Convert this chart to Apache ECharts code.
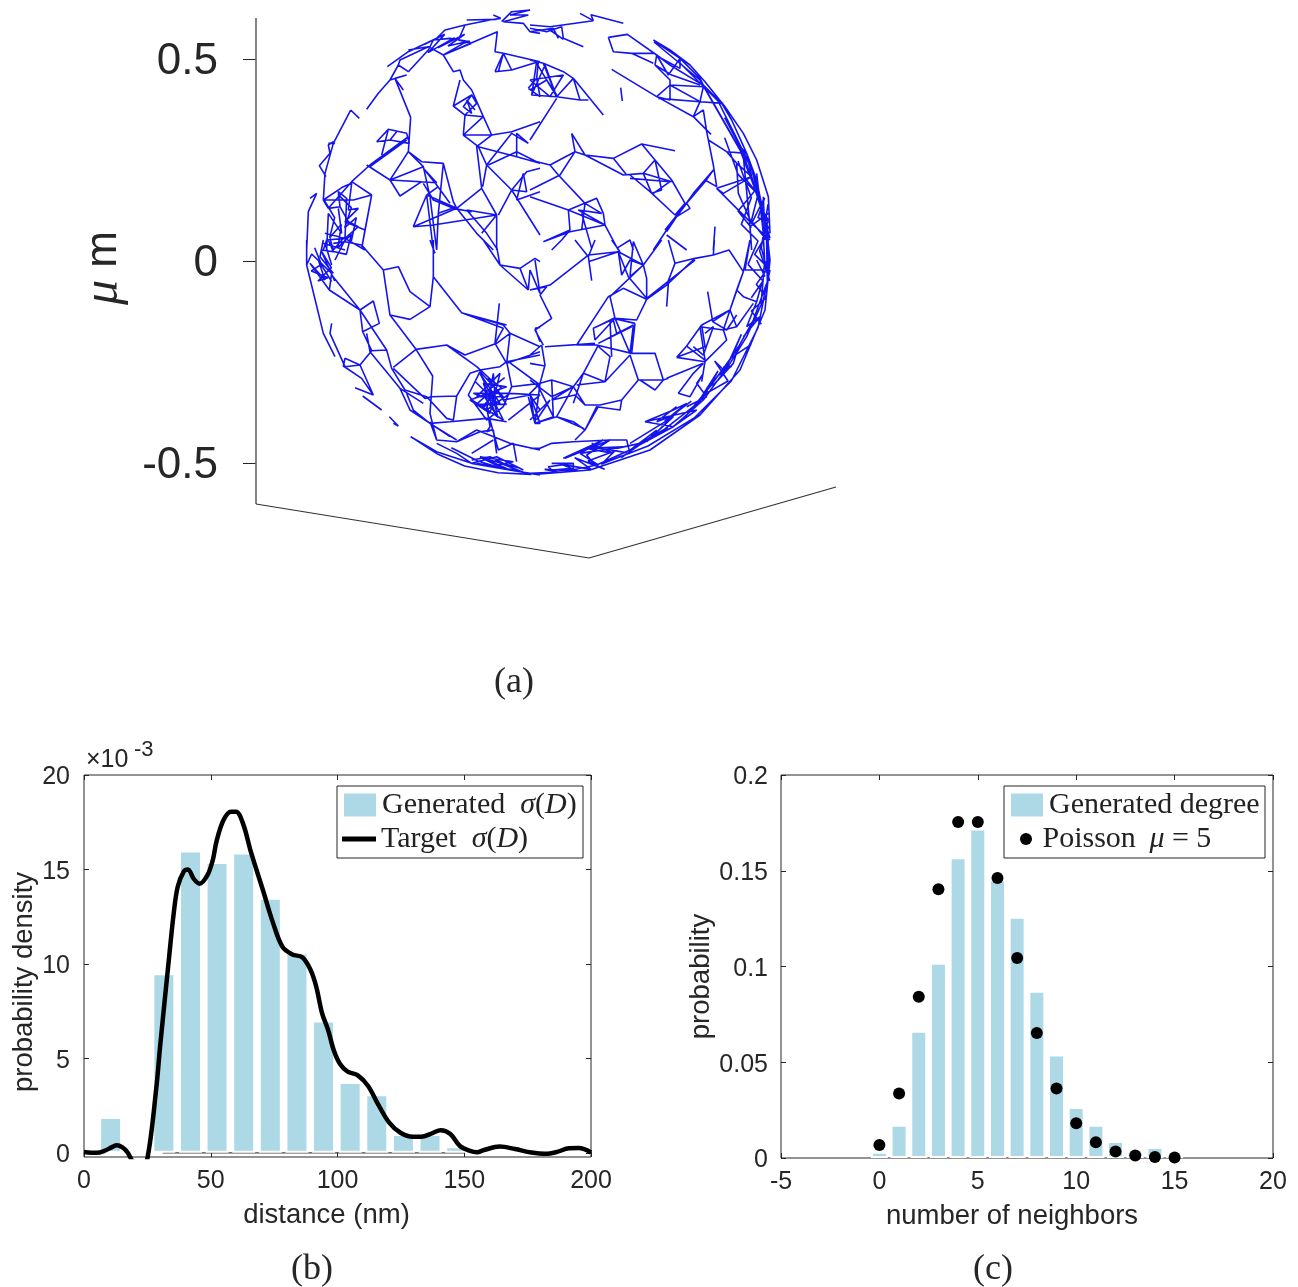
<!DOCTYPE html>
<html><head><meta charset="utf-8"><style>html,body{margin:0;padding:0;background:#fff}#c{width:1298px;height:1287px}</style>
<script src="https://cdn.jsdelivr.net/npm/echarts@6/dist/echarts.min.js"></script></head><body><div id="c"></div>
<script>
// Network polylines, sphere-centred, one step = netStep um
const netStep = 1/1212;
const netNW = [
[-452,583,-389,628,-304,668,-279,693,-219,708,-144,723,-112,728,-134,738],[-214,723,-124,725],
[-389,633,-329,643,-284,618,-224,653,-204,658,-264,668,-314,663,-329,633,-389,568,-419,588,-414,603,-329,643],
[-284,618,-122,688,-129,628,-104,623,6,598],
[-219,708,-239,663,-199,653,-284,618,-254,568,-234,573,-224,543,-199,513,-164,433,-139,378,-224,378,-219,438,-254,465,-234,543],
[-254,465,-199,498,-184,473,-219,438,-164,433],[-199,498,-224,463,-199,443,-214,483,-189,453],[-224,378,-164,433],
[-514,455,-479,503,-444,543,-419,588],[-444,543,-394,558,-429,548,-404,513],
[-429,548,-382,431,-386,373,-389,328,-444,243,-414,195,-349,238,-444,243],
[-389,328,-349,298,-284,293,-254,178,-244,158,-374,103,-334,198,-244,158],[-284,293,-299,143,-304,33],
[-444,243,-344,283,-389,328],[-444,243,-304,235,-344,278,-304,228,-264,173],
[-374,103,-314,108,-124,138,-169,218,-244,158],[-334,198,-314,33],
[-169,218,-184,343,-139,378,-79,388,6,418],[-224,378,-179,343,-154,288,-166,223],
[-154,288,-79,383,-29,353,-64,383,-64,313,6,293],[-179,343,-64,313],[-149,288,-64,328,6,293],
[-154,288,-79,213,6,78],[-79,213,-34,268,6,278],[-79,213,-34,208,-44,263,-64,183,6,208],
[-124,138,-214,153,-154,83,-124,38],[-169,83,-124,138,-124,33],[-79,213,-119,138],[-244,158,-184,83,-134,33],
[-562,453,-536,428],[-562,453,-614,353,-639,263,-644,183,-629,158,-559,238,-504,288,-389,373],
[-614,358,-629,348,-624,323,-656,286,-636,253],[-629,353,-609,353],
[-484,358,-449,395,-394,383,-386,353,-444,363,-484,358],[-449,395,-469,318],[-424,388,-444,363],
[-504,283,-394,363],[-514,288,-444,243],[-559,238,-499,198,-554,183,-644,183],
[-684,188,-664,203,-689,148,-694,33],
[-644,183,-584,223,-559,233,-569,153,-539,158,-579,118,-519,93,-529,38],
[-629,158,-594,163,-599,208,-574,188,-579,68,-639,83],[-499,198,-519,93],[-499,198,-529,38],
[-594,163,-569,118,-539,103,-579,68,-634,63,-644,33],[-629,143,-634,33],[-599,158,-589,83,-629,143],
[-624,68,-614,33,-584,68],[-644,53,-579,33],[-579,68,-519,33],
[-344,283,-324,193,-304,33],[-334,198,-299,223],[-299,143,-244,163],[-344,233,-314,183,-254,158,-199,148],
[-129,568,-104,623,-79,573,-129,568],[-79,573,1,598,-4,548],[-104,623,-119,568],[-29,518,-4,548,6,493,-29,518],
[-109,718,-79,748,-24,753,-84,738,-29,738,-104,718,-44,713,-24,688,6,683],
[-640,180,-610,130,-625,70,-590,110,-600,40,-560,80,-575,20,-620,30],[-600,200,-560,160,-580,100,-545,130,-560,60],
[-340,650,-280,680,-330,625,-250,670,-300,640,-220,680,-270,645,-205,660]
];
const netNE = [
[126,743,166,721,159,739,256,713],[-24,708,36,703,166,721],
[-24,698,26,688,71,703,76,668,136,643],[-24,688,46,698,61,668],[36,693,76,665],
[211,671,268,680,356,618,351,588,401,558,486,528],[211,671,226,628,281,623,346,593],[281,623,351,623],
[346,663,396,633,456,588,501,538,561,463,616,383,656,303,691,193,696,83],
[351,658,426,608,486,548,496,528,551,473,581,423,626,323],
[361,613,426,578,426,608,391,558,356,618,396,588,486,533],
[351,588,396,543,396,483,356,493,221,575],
[356,493,396,528,496,523,486,478,556,473],[396,528,486,478],[361,488,486,478],
[366,488,466,433,519,380],[486,478,466,433,496,453,506,388,526,288,536,223,501,243,381,93],
[248,520,253,480],
[511,363,566,328,596,293,641,253,536,218,556,203,641,253],
[566,328,626,323,656,243,676,143],[596,353,626,323,641,253,696,68],
[596,293,601,203,641,113,696,63],[536,218,641,113,676,183],
[616,313,636,103],[656,263,676,83],[641,33,636,103,691,143],
[676,193,681,63],[666,163,691,123,671,133,696,93],
[526,273,501,238,446,173,386,93,346,33],[526,273,466,203,416,133],[446,173,456,158,416,133,386,88],
[101,383,111,328,141,318,101,383],[111,328,36,288,-24,303],
[111,328,66,258,-24,213],[36,288,61,258,141,173,176,188,196,143,201,108,96,88,16,58],
[-24,193,91,153,176,188],[91,153,96,93,16,58],
[91,153,201,108,121,153,191,143,141,173,131,93],
[201,108,241,33],[131,143,161,38],[96,93,71,63,41,33],
[141,318,226,308,311,351,411,331],
[141,318,256,258,316,263,351,303,401,243,441,173,411,138,336,208,276,258],
[226,308,266,258],[311,351,351,303,371,213,341,203,316,263,401,238],[276,248,396,238],[346,203,396,238],
[286,33,276,63,236,38],[386,78,446,33],[531,103,526,33],
[-24,603,16,593,76,568,106,548,196,438],[-4,598,-19,498,56,493,106,548],[16,593,56,493,126,483,106,548],
[-24,543,76,558,36,493,-24,543],[-19,498,21,588,56,493,-4,593],[56,488,-24,363],[151,483,126,483],[-24,513,26,543,56,498],
[348,657,486,543,606,333,681,138,696,3],[420,600,540,480,640,280,690,80,692,-40],
[560,430,650,260,685,100,688,-60],[500,520,620,310,672,150,680,0],
[620,250,660,200,640,120,680,70,650,20,690,-20],[600,300,640,190,610,110,660,60,630,-10],
[560,370,600,260,650,210,600,150,640,100],[690,170,670,40,695,-60,665,30,690,120,660,130,680,190]
];
const netSW = [
[-694,63,-694,-12,-644,-217,-609,-287],
[-694,-12,-679,21,-619,-37,-626,-87,-684,-7,-639,-57,-659,3,-619,-62],
[-626,-87,-534,-147,-494,-120,-476,-187,-526,-212,-534,-147,-454,-267,-499,-269,-526,-212,-476,-187],
[-619,-42,-534,-147],
[-499,-269,-534,-312,-579,-292,-584,-315,-529,-352,-494,-402,-549,-380],
[-619,-187,-624,-217,-579,-317,-534,-312,-494,-402],
[-526,-405,-469,-447],[-446,-467,-419,-495,-434,-487],
[-382,-527,-304,-572,-199,-607,-24,-637],
[-644,63,-654,13,-614,-37],[-639,53,-619,-12],[-609,3,-579,63],[-649,33,-614,28,-629,63],
[-614,53,-579,58,-529,48,-464,-27,-419,-17,-384,-92,-324,-137,-314,-47,-229,-155,-104,-192,-84,-217],
[-464,-27,-444,-162,-384,-175,-324,-137],
[-444,-162,-366,-265,-274,-252,-184,-317,-124,-372],
[-366,-265,-316,-345,-324,-457,-304,-537],[-366,-265,-434,-319],
[-514,-217,-504,-272,-414,-382,-384,-447,-324,-487,-244,-537],
[-454,-267,-439,-322,-399,-387,-334,-407,-274,-472,-254,-477,-244,-405,-204,-337,-174,-327],
[-434,-322,-339,-412,-319,-407,-244,-405],
[-274,-252,-219,-282,-124,-247,-84,-217,6,-257],[-116,-127,-129,-247,-94,-307],[-84,-217,-94,-307,6,-272],
[-229,-155,-104,-202,-129,-247],[-224,-157,-94,-192],
[-314,-47,-314,63],[-309,23,-324,63],
[-164,63,-114,-12,-29,-87,-54,-22,-114,-12],[-54,-22,-9,8,6,-2],[-29,-87,-24,-27,6,-97],[-124,43,-114,-12],
[-9,-202,6,-242],[6,-199,-9,-202],
[-174,-327,-114,-317,-94,-302,-79,-377,-104,-437,-154,-477,-209,-402,-174,-332,-104,-407,-184,-407,-114,-337,-144,-457,-204,-417,-94,-377,-164,-367,-124,-467,-134,-337,-154,-447,-84,-397,-194,-397,-114,-427,-174,-337,-104,-477,-199,-417],
[-190,-360,-130,-420,-170,-440,-110,-380,-150,-350,-95,-430,-185,-430,-140,-390,-120,-470,-165,-400,-100,-350],
[-154,-437,-144,-497,-154,-512,-139,-507,-174,-512],
[-94,-302,6,-282],[-79,-377,6,-367],[-104,-417,-24,-402,6,-447],[-89,-477,6,-402,-84,-397],
[-24,-402,6,-487,-9,-487,-29,-407],[-89,-302,6,-372],
[-324,-487,-264,-482,-154,-472,-94,-482],
[-324,-482,-304,-537,-244,-542,-184,-507,-84,-547,6,-567],
[-244,-542,-174,-512,-134,-507,-124,-577],[-144,-477,-119,-567,-74,-547,-64,-602],[-134,-537,-199,-577],
[-304,-547,-244,-577,-199,-607,-124,-587,-44,-627],
[-199,-597,-144,-587,-64,-627,-144,-617,-74,-602,-174,-587,-84,-627,-184,-607,-124,-617],
[-394,-397,-374,-447,-324,-487,-264,-527],[-414,-382,-344,-427],[-24,-637,6,-642],
[-382,-527,-300,-580,-220,-615,-120,-635,-20,-640],[-260,-560,-180,-600,-100,-625,-170,-590,-60,-620,-130,-600,-40,-635],
[-670,40,-650,-10,-680,-30,-630,-50,-660,-60,-620,-20,-650,30,-610,-60]
];
const netSE = [
[-9,3,6,-97],[-24,-87,36,-72,151,18,241,28,316,-12,276,-47],[-24,-87,26,-77,6,-102],
[111,63,151,13,161,-59],
[151,-2,241,28,251,-42,276,3,316,-12],[241,28,271,-47,326,-112,326,-52,316,-12,286,58,276,-47],
[371,63,316,-12],[221,63,246,28],[171,63,151,13],
[391,63,411,-7,471,8,391,-67,386,-137],
[411,-7,386,-72,326,-115,256,-82,211,-107,116,-252,176,-252,281,-277],
[471,8,526,18,573,33,616,-32,596,-87,576,-147,524,-182,509,-92],[529,63,526,18],
[616,-32,636,63,621,-27,676,-27,691,13],[656,3,681,-47],
[596,-87,616,-107,656,-122,671,-67],[616,-32,576,-147,596,-197,556,-207,576,-147],
[656,-122,626,-197,666,-167,616,-227],[646,-127,596,-197],
[491,-192,576,-147],[491,-192,446,-255,501,-297,486,-197,556,-207,566,-237,506,-297],[446,-255,416,-289,501,-257,491,-192],
[524,-182,566,-207,596,-162],[501,-217,526,-197,496,-282,466,-257],
[416,-289,501,-302,491,-362],[501,-302,566,-237],
[386,-352,496,-307,466,-337,421,-397,456,-407,496,-337,476,-367,506,-407,446,-437],
[506,-382,556,-327,601,-257,586,-307,531,-367,506,-382],[556,-317,581,-315,536,-347],
[696,-27,676,-117,626,-227,576,-307,496,-417,406,-497,276,-567,176,-612,76,-632,-24,-637],
[686,-67,646,-177,596,-267,516,-377,466,-437,376,-507,306,-547,236,-562],
[321,-482,476,-447,406,-497,321,-482,406,-447,446,-427,396,-467,356,-482,416,-437],
[276,-547,406,-467,326,-542,356,-507,276,-567],
[-24,-562,6,-562,41,-547,106,-542,216,-537,266,-537,276,-577,166,-557,76,-592,196,-537,126,-577,256,-557,146,-562,226,-577,161,-547],
[111,-537,141,-507,176,-437,246,-447,251,-417,186,-432,141,-432,106,-377,56,-467],
[141,-507,181,-437],
[106,-377,136,-337,201,-362,276,-282,301,-357,376,-357,351,-387,306,-357,321,-357],
[281,-277,351,-277,376,-357,391,-352],
[301,-357,251,-417,186,-432],[116,-372,201,-362],[41,-357,106,-377],[136,-337,106,-427],
[181,-252,136,-337],[176,-252,216,-287,201,-362],[216,-177,221,-287],
[216,-107,231,-172,276,-277],[231,-172,296,-177,326,-115],
[231,-172,166,-202,171,-237,226,-177,236,-217,281,-197,181,-247,286,-192,276,-277],
[291,-187,281,-277],[21,-257,171,-247],[11,-252,21,-312,6,-367],[-24,-282,11,-252],[-24,-307,21,-315],
[6,-367,41,-357,46,-467,-9,-487,6,-367,-24,-397,-9,-487,56,-467,136,-502],
[41,-407,106,-377,41,-417,111,-402,141,-432],[-24,-357,41,-407],[1,-377,46,-467],[-24,-477,36,-417,-4,-477],
[-9,-487,56,-467,106,-482,141,-507],
[41,-607,106,-607,106,-622,41,-627,31,-617,106,-607],
[81,-592,216,-537,146,-582,166,-607,181,-612,126,-577],
[326,-112,471,3],[216,-107,316,-12],[166,-202,226,-172,291,-187],
[6,-102,41,-172,-9,-207,16,-252],
[696,3,681,-147,606,-327,486,-462,336,-567,156,-627,6,-639],
[692,-40,660,-200,580,-360,470,-470,330,-555,200,-605],[680,0,670,-120],
[690,-20,655,-70,685,-110,640,-150,670,-190],[630,-10,675,-60,640,-110],
[640,-250,580,-290,610,-220,560,-330,530,-300,570,-360,500,-400,540,-330,470,-440,510,-390,430,-480],
[460,-420,380,-480,430,-440,340,-530,390,-500,290,-560,350,-520,250,-590],
[250,-585,190,-610,230,-570,150,-600,200,-625,110,-590,160,-625,70,-610,120,-630,20,-625,70,-635]
];
// Panel (a) frame, um
const frameA = [[-0.698,0.6015],[-0.698,-0.6015]];
const floorA = [[-0.698,-0.6015],[0.1262,-0.7351],[0.7376,-0.5594]];
const zTicks = [-0.5,0,0.5];
// Panel (b)
const distanceBins = [10.5,21,31.5,42,52.5,63,73.5,84,94.5,105,115.5,126,136.5,147,157.5,168];
const generatedDensity = [1.9,0,9.5,16,15.4,15.9,13.5,10.6,7,3.75,3.1,1,1,0.35,0.05,0.15];
const targetX = [0,5,8,11,13,15,17,18.5,22,25,28.5,30,33.6,35.5,37,39.4,41,43.3,45.6,48.7,50.8,52.3,55,58,60,62.8,65.9,70.6,74.5,78.3,82.2,86.1,89.3,91.6,93.9,96.3,98.6,101,104,108,112,115.7,120.4,125,129.7,133,137.5,140.7,144.5,148.4,152.3,155,157.8,164,170,176.5,182,186.6,191.3,195.2,200];
const targetY = [0.05,0,0.1,0.3,0.4,0.3,0.05,-0.3,-1.2,-0.3,3.4,5.6,10.4,12.8,14.1,14.9,15,14.5,14.25,14.7,15.5,16.5,17.6,18.05,18.05,17.4,15.9,13.9,12.2,10.9,10.5,10.35,9.7,8.8,7.4,6.5,5.4,4.7,4.3,4.1,3.55,2.65,1.6,1.05,0.85,0.85,1.05,1.2,1,0.35,0.1,0.03,0.15,0.33,0.2,0.02,-0.05,0.05,0.24,0.25,0.02];
const densityTicks = [0,5,10,15,20];
// Panel (c)
const neighbors = [0,1,2,3,4,5,6,7,8,9,10,11,12,13,14,15];
const generatedDegree = [0.0032,0.0173,0.0664,0.102,0.157,0.172,0.1455,0.126,0.0873,0.054,0.0266,0.0173,0.0089,0.0039,0.0057,0.002];
const poisson = [0.0068,0.0337,0.0842,0.1404,0.1755,0.1755,0.1462,0.1044,0.0653,0.0363,0.0181,0.0082,0.0034,0.0013,0.0005,0.0002];

const ink='#262626', sans='"Liberation Sans",Arial,sans-serif', serif='"Liberation Serif",serif', bar='#add8e6';
const netData=[];
[netNW,netNE,netSW,netSE].forEach(q=>q.forEach(p=>{
  for(let i=0;i<p.length;i+=2) netData.push([p[i]*netStep,p[i+1]*netStep]);
  netData.push([null,null]);
}));
const zip=(a,b)=>a.map((v,i)=>[v,b[i]]);
const tickLine={lineStyle:{color:ink,width:1}};
const noLine={show:false,onZero:false};
function mirror(grid,min,max,interval,pos,custom){
  const o={type:'value',gridIndex:grid,min,max,position:pos,splitLine:{show:false},axisLine:noLine,axisLabel:{show:false},
    axisTick:{show:true,inside:true,length:5,...tickLine}};
  if(custom)o.axisTick.customValues=custom; else o.interval=interval;
  return o;
}
const leg={show:true,orient:'vertical',z:20,padding:0,itemWidth:34,itemHeight:25,itemGap:10,
  textStyle:{color:'#222',fontFamily:serif,fontSize:30,rich:{i:{fontStyle:'italic',fontFamily:serif,fontSize:30,color:'#222'}}},
  formatter:n=>({'Generated σ(D)':'Generated\u2002{i|σ}({i|D})','Target σ(D)':'Target\u2002{i|σ}({i|D})','Poisson μ = 5':'Poisson\u2009 {i|μ} = 5'}[n]||n)};
const lab={color:ink,fontFamily:sans,fontSize:25};
const shiftedLabel=(size)=>({formatter:v=>'{v|'+v+'}',rich:{v:{fontFamily:sans,fontSize:size,color:ink,padding:[5,0,0,0]}}});
const option={animation:false,backgroundColor:'#fff',
 grid:[{left:256,top:18,width:580,height:540},{left:84,top:775,width:507,height:382,show:true,borderColor:ink,borderWidth:1,backgroundColor:'transparent'},
       {left:781,top:775,width:492,height:383,show:true,borderColor:ink,borderWidth:1,backgroundColor:'transparent'}],
 xAxis:[
  {type:'value',gridIndex:0,min:-0.698,max:0.7376,show:false},
  {type:'value',gridIndex:1,min:0,max:200,interval:50,position:'bottom',name:'distance (nm)',nameLocation:'middle',nameGap:44,
   nameTextStyle:{color:ink,fontFamily:sans,fontSize:27.5,padding:[0,22,0,0]},splitLine:{show:false},axisLine:noLine,
   axisTick:{inside:true,length:5,...tickLine},axisLabel:{...lab,margin:12}},
  mirror(1,0,200,50,'top'),
  {type:'value',gridIndex:2,min:-5,max:20,interval:5,position:'bottom',name:'number of neighbors',nameLocation:'middle',nameGap:44,
   nameTextStyle:{color:ink,fontFamily:sans,fontSize:27.5,padding:[0,30,0,0]},splitLine:{show:false},axisLine:noLine,
   axisTick:{inside:true,length:5,...tickLine},axisLabel:{...lab,margin:12}},
  mirror(2,-5,20,5,'top')
 ],
 yAxis:[
  {type:'value',gridIndex:0,min:-0.7351,max:0.6015,splitLine:{show:false},axisLine:noLine,
   axisTick:{show:true,inside:false,length:13,customValues:zTicks,...tickLine},
   axisLabel:{show:true,customValues:zTicks,color:ink,fontFamily:sans,fontSize:44,margin:38,...shiftedLabel(44)}},
  {type:'value',gridIndex:1,min:-0.22,max:20,position:'left',name:'probability density',nameLocation:'middle',nameGap:37,
   nameTextStyle:{color:ink,fontFamily:sans,fontSize:27.5,padding:[0,32,0,0]},splitLine:{show:false},axisLine:noLine,
   axisTick:{show:true,inside:true,length:5,customValues:densityTicks,...tickLine},
   axisLabel:{show:true,customValues:densityTicks,...lab,margin:14,...shiftedLabel(25)}},
  mirror(1,-0.22,20,5,'right',densityTicks),
  {type:'value',gridIndex:2,min:0,max:0.2,interval:0.05,position:'left',name:'probability',nameLocation:'middle',nameGap:64,
   nameTextStyle:{color:ink,fontFamily:sans,fontSize:27.5,padding:[0,20,0,0]},splitLine:{show:false},axisLine:noLine,
   axisTick:{inside:true,length:5,...tickLine},axisLabel:{...lab,margin:13,...shiftedLabel(25)}},
  mirror(2,0,0.2,0.05,'right')
 ],
 legend:[
  {...leg,left:342,top:790,data:[{name:'Generated σ(D)',icon:'rect'}]},
  {...leg,left:342,top:824,itemHeight:5,data:[{name:'Target σ(D)',icon:'rect'}]},
  {...leg,left:1009,top:790,data:[{name:'Generated degree',icon:'rect'}]},
  {...leg,left:1020,top:824,itemWidth:23,itemHeight:12,data:[{name:'Poisson μ = 5',icon:'circle'}]}
 ],
 graphic:[
  {type:'rect',z:15,shape:{x:337,y:786,width:246,height:72},style:{fill:'#fff',stroke:ink,lineWidth:1}},
  {type:'rect',z:15,shape:{x:1004,y:786,width:261,height:72},style:{fill:'#fff',stroke:ink,lineWidth:1}},
  {type:'text',x:104,y:268,rotation:Math.PI/2,z:15,style:{text:'{g|μ} m',font:'44px '+sans,fill:ink,align:'center',verticalAlign:'middle',rich:{g:{font:'italic 50px '+serif,fill:ink}}}},
  {type:'text',x:86,y:760,z:15,style:{text:'×10',font:'25px '+sans,fill:ink,align:'left',verticalAlign:'middle'}},
  {type:'text',x:134,y:750,z:15,style:{text:'-3',font:'22px '+sans,fill:ink,align:'left',verticalAlign:'middle'}},
  {type:'text',x:514,y:683,z:15,style:{text:'(a)',font:'36px '+serif,fill:ink,align:'center',verticalAlign:'middle'}},
  {type:'text',x:312,y:1270,z:15,style:{text:'(b)',font:'36px '+serif,fill:ink,align:'center',verticalAlign:'middle'}},
  {type:'text',x:993,y:1270,z:15,style:{text:'(c)',font:'36px '+serif,fill:ink,align:'center',verticalAlign:'middle'}}
 ],
 series:[
  {name:'zAxisLine',type:'line',xAxisIndex:0,yAxisIndex:0,data:frameA,symbol:'none',clip:false,silent:true,lineStyle:{color:'#666',width:1.6}},
  {name:'floor',type:'line',xAxisIndex:0,yAxisIndex:0,data:floorA,symbol:'none',clip:false,silent:true,lineStyle:{color:'#333',width:1.2}},
  {name:'network',type:'line',xAxisIndex:0,yAxisIndex:0,data:netData,symbol:'none',clip:false,silent:true,connectNulls:false,lineStyle:{color:'#1414ee',width:1.6}},
  {name:'baseline',type:'line',xAxisIndex:1,yAxisIndex:1,z:1,data:[[31,0],[150,0]],symbol:'none',silent:true,lineStyle:{color:'#444',width:1.2}},
  {name:'Generated σ(D)',type:'bar',xAxisIndex:1,yAxisIndex:1,z:2,barWidth:23,data:zip(distanceBins,generatedDensity),itemStyle:{color:bar,borderColor:'#fff',borderWidth:2}},
  {name:'Target σ(D)',type:'line',xAxisIndex:1,yAxisIndex:1,z:3,smooth:0.35,data:zip(targetX,targetY),symbol:'none',lineStyle:{color:'#000',width:4.5},itemStyle:{color:'#000'}},
  {name:'Generated degree',type:'bar',xAxisIndex:3,yAxisIndex:3,z:2,barWidth:17,data:zip(neighbors,generatedDegree),itemStyle:{color:bar,borderColor:'#fff',borderWidth:2}},
  {name:'Poisson μ = 5',type:'scatter',xAxisIndex:3,yAxisIndex:3,z:3,symbolSize:12,data:zip(neighbors,poisson),itemStyle:{color:'#000',opacity:1}}
 ]
};
echarts.init(document.getElementById('c'),null,{renderer:'canvas'}).setOption(option);
</script></body></html>
